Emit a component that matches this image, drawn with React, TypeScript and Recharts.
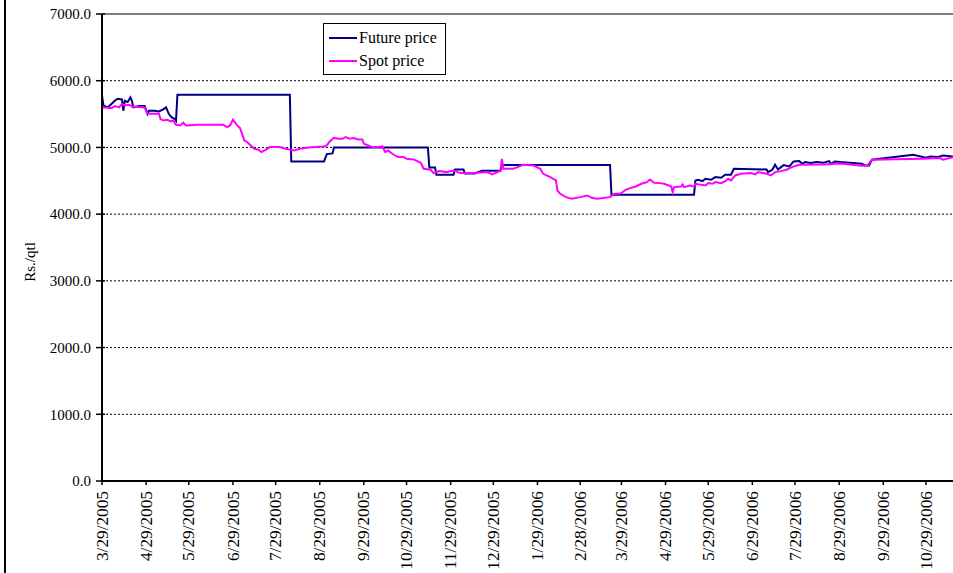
import { LineChart, Line, XAxis, YAxis, CartesianGrid, Legend, ReferenceLine, Label } from 'recharts';

// days counted from 3/29/2005
const tickDays = [0, 31, 61, 92, 122, 153, 184, 214, 245, 275, 306, 336, 365, 396, 426, 457, 487, 518, 549, 579];
const tickLabels = [
  '3/29/2005', '4/29/2005', '5/29/2005', '6/29/2005', '7/29/2005', '8/29/2005', '9/29/2005',
  '10/29/2005', '11/29/2005', '12/29/2005', '1/29/2006', '2/28/2006', '3/29/2006', '4/29/2006',
  '5/29/2006', '6/29/2006', '7/29/2006', '8/29/2006', '9/29/2006', '10/29/2006',
];
const yTicks = [0, 1000, 2000, 3000, 4000, 5000, 6000, 7000];

const futureDays = [
  0, 1, 4, 7, 9, 11, 14, 15, 16, 18, 20, 21, 22, 26, 30, 32, 33, 37, 40, 43, 45, 47, 49, 51, 52,
  53, 132, 133, 156, 158, 162, 163, 229, 230, 234, 235, 247, 248, 254, 255, 262, 267, 280, 281, 357,
  358, 416, 417, 419, 422, 424, 428, 431, 435, 438, 442, 444, 467, 468, 471, 473, 475, 479, 483, 486,
  490, 492, 494, 498, 502, 507, 511, 512, 515, 519, 534, 536, 539, 541, 570, 579, 582, 587, 591, 598,
];
const futurePrice = [
  5780, 5630, 5600, 5660, 5700, 5730, 5720, 5550, 5700, 5680, 5750, 5700, 5600, 5620, 5620, 5500, 5550, 5550, 5540, 5570, 5600, 5500, 5450, 5430, 5400,
  5790, 5790, 4790, 4790, 4900, 4910, 5000, 5000, 4700, 4700, 4590, 4590, 4670, 4670, 4610, 4610, 4650, 4650, 4735, 4735,
  4290, 4290, 4505, 4515, 4495, 4530, 4515, 4555, 4545, 4590, 4590, 4680, 4670, 4630, 4665, 4740, 4670, 4735, 4715, 4790,
  4795, 4755, 4780, 4765, 4780, 4770, 4795, 4755, 4790, 4780, 4755, 4730, 4730, 4815, 4890, 4845, 4865, 4855, 4880, 4865,
];

const spotDays = [
  0, 2, 5, 7, 9, 12, 14, 16, 19, 21, 30, 32, 40, 41, 43, 46, 48, 50, 52, 55, 57, 59, 67, 85, 88, 90, 92, 95, 97,
  100, 102, 104, 107, 110, 112, 115, 118, 125, 129, 135, 139, 144, 149, 156, 158, 160, 163, 166, 169, 171, 174, 177,
  180, 183, 184, 187, 190, 194, 197, 199, 201, 205, 208, 212, 214, 219, 224, 226, 231, 233, 237, 242, 247, 252, 261,
  271, 274, 278, 280, 281, 282, 289, 292, 296, 303, 308, 310, 315, 319, 320, 322, 326, 330, 336, 341, 344, 348, 357,
  360, 363, 365, 368, 371, 375, 379, 383, 385, 388, 392, 395, 400, 401, 402, 407, 408, 409, 413, 416, 417, 424, 426,
  429, 431, 435, 438, 440, 442, 445, 449, 456, 459, 461, 467, 470, 473, 477, 481, 486, 490, 507, 519, 534, 538, 541,
  577, 589, 591, 598,
];
const spotPrice = [
  5590, 5600, 5590, 5590, 5620, 5600, 5650, 5630, 5640, 5615, 5600, 5505, 5505, 5430, 5405, 5415, 5390, 5405, 5340, 5330, 5370, 5330, 5340, 5340, 5305, 5330, 5415, 5330, 5290,
  5105, 5080, 5040, 4980, 4965, 4930, 4965, 5005, 5005, 4980, 4955, 4980, 4995, 5005, 5015, 5030, 5090, 5145, 5130, 5130, 5155, 5130, 5140,
  5120, 5120, 5055, 5030, 5005, 5005, 5015, 4930, 4955, 4890, 4855, 4855, 4830, 4820, 4770, 4680, 4665, 4615, 4645, 4630, 4655, 4615, 4615,
  4630, 4595, 4630, 4655, 4830, 4680, 4680, 4705, 4740, 4730, 4680, 4605, 4555, 4505, 4355, 4305, 4255, 4230, 4255, 4280, 4245, 4230, 4255,
  4305, 4305, 4315, 4365, 4390, 4415, 4455, 4480, 4520, 4470, 4465, 4455, 4415, 4330, 4405, 4415, 4445, 4405, 4430, 4415, 4455, 4430, 4465,
  4455, 4480, 4465, 4495, 4530, 4505, 4580, 4605, 4615, 4595, 4630, 4605, 4580, 4630, 4645, 4665, 4715, 4740, 4745, 4760, 4725, 4730, 4815,
  4830, 4840, 4815, 4855,
];

const seriesNames = ['Future price', 'Spot price'];
const seriesColors = ['#000080', '#FF00FF'];

const byDay = new Map<number, { day: number; future?: number; spot?: number }>();
futureDays.forEach((d, i) => {
  byDay.set(d, { ...(byDay.get(d) || { day: d }), future: futurePrice[i] });
});
spotDays.forEach((d, i) => {
  byDay.set(d, { ...(byDay.get(d) || { day: d }), spot: spotPrice[i] });
});
const data = Array.from(byDay.values()).sort((a, b) => a.day - b.day);

const FONT = "'Liberation Serif', 'Times New Roman', serif";

function XTick({ x, y, payload }: any) {
  const idx = tickDays.indexOf(payload.value);
  return (
    <text
      transform={`translate(${x},${y}) rotate(-90) scale(1.08,1)`}
      textAnchor="end"
      dy="0.35em"
      fontSize={16}
      style={{ fontFamily: FONT }}
      fill="#000"
    >
      {tickLabels[idx]}
    </text>
  );
}

function YTick({ x, y, payload }: any) {
  return (
    <g>
      <text x={x} y={y} dy="0.35em" textAnchor="end" fontSize={15} style={{ fontFamily: FONT }} fill="#000">
        {payload.value.toFixed(1)}
      </text>
      <line x1={x + 11} x2={x + 14} y1={y} y2={y} stroke="#000" strokeWidth={1.5} />
    </g>
  );
}

function LegendBox() {
  return (
    <div style={{ border: '1.5px solid #000', background: '#fff', padding: '2px 4px', fontFamily: FONT, fontSize: 16, lineHeight: '23px' }}>
      {seriesNames.map((name, i) => (
        <div key={name} style={{ display: 'flex', alignItems: 'center', whiteSpace: 'nowrap' }}>
          <svg width={31} height={10}>
            <line x1={1} x2={29} y1={5} y2={5} stroke={seriesColors[i]} strokeWidth={2} />
          </svg>
          <span style={{ color: '#000' }}>{name}</span>
        </div>
      ))}
    </div>
  );
}

export default function App() {
  return (
    <div style={{ position: 'absolute', left: 0, top: 0, width: 953, height: 573, background: '#fff', overflow: 'hidden', fontFamily: FONT }}>
      <div style={{ position: 'absolute', left: 4, top: 0, width: 2, height: 573, background: '#000' }} />
      <LineChart width={953} height={573} data={data} margin={{ top: 14, right: 0, left: 0, bottom: 0 }} style={{ fontFamily: FONT }}>
        <CartesianGrid
          horizontal
          vertical={false}
          horizontalValues={[1000, 2000, 3000, 4000, 5000, 6000]}
          stroke="#000"
          strokeDasharray="2 2"
        />
        <ReferenceLine y={7000} stroke="#808080" strokeWidth={2} />
        <XAxis
          dataKey="day"
          type="number"
          domain={[0, 598]}
          ticks={tickDays}
          interval={0}
          height={92}
          tick={<XTick />}
          tickSize={4}
          tickMargin={6}
          axisLine={{ stroke: '#000', strokeWidth: 2 }}
          tickLine={{ stroke: '#000', strokeWidth: 1.5 }}
          allowDataOverflow
        />
        <YAxis
          type="number"
          domain={[0, 7000]}
          ticks={yTicks}
          interval={0}
          width={102}
          tick={<YTick />}
          tickSize={6}
          tickMargin={5}
          axisLine={{ stroke: '#000', strokeWidth: 2 }}
          tickLine={{ stroke: '#000', strokeWidth: 1.5 }}
        >
          <Label
            content={() => (
              <text transform="translate(35,262) rotate(-90)" textAnchor="middle" fontSize={15} style={{ fontFamily: FONT }} fill="#000">
                Rs./qtl
              </text>
            )}
          />
        </YAxis>
        <Legend
          layout="vertical"
          align="center"
          verticalAlign="middle"
          content={() => <LegendBox />}
          wrapperStyle={{ left: 323, top: 23, width: 123, height: 48 }}
        />
        <Line
          type="linear"
          dataKey="future"
          name={seriesNames[0]}
          stroke={seriesColors[0]}
          strokeWidth={2}
          dot={false}
          connectNulls
          isAnimationActive={false}
        />
        <Line
          type="linear"
          dataKey="spot"
          name={seriesNames[1]}
          stroke={seriesColors[1]}
          strokeWidth={2}
          dot={false}
          connectNulls
          isAnimationActive={false}
        />
      </LineChart>
    </div>
  );
}
